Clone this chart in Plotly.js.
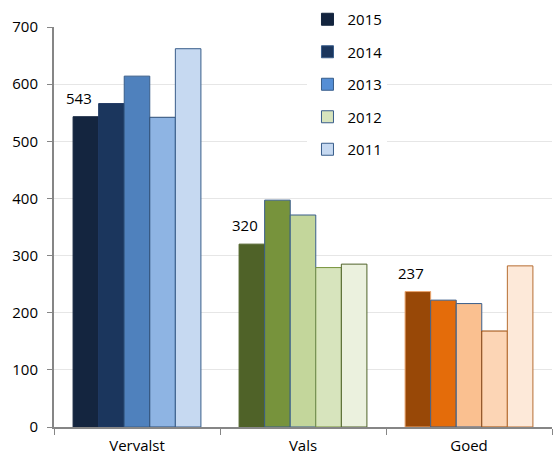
<!DOCTYPE html>
<html>
<head>
<meta charset="utf-8">
<script src="https://cdn.plot.ly/plotly-3.0.1.min.js"></script>
<style>html,body{margin:0;padding:0;background:#fff;}#chart{width:553px;height:454px;}</style>
</head>
<body>
<div id="chart"></div>
<script>
const categories = ['Vervalst', 'Vals', 'Goed'];
const years = ['2015', '2014', '2013', '2012', '2011'];
const v2015 = [543, 320, 237];
const v2014 = [566, 397, 222];
const v2013 = [614, 371, 216];
const v2012 = [542, 279, 168];
const v2011 = [662, 285, 282];
const labels2015 = ['543', '320', '237'];
const yTicks = [0, 100, 200, 300, 400, 500, 600, 700];

const values = [v2015, v2014, v2013, v2012, v2011];
const fillColors = [
  ['#14253f', '#4f6228', '#984807'],
  ['#1b365d', '#77933c', '#e46c0a'],
  ['#4f81bd', '#c3d69b', '#fac090'],
  ['#8eb4e3', '#d7e4bd', '#fcd5b5'],
  ['#c6d9f1', '#ebf1de', '#fde9d9']
];
const lineColors = [
  ['#14253f', '#4f6228', '#eaa56e'],
  ['#1f3864', '#385d8a', '#385d8a'],
  ['#385d8a', '#385d8a', '#385d8a'],
  ['#2c4d75', '#77933c', '#984807'],
  ['#385d8a', '#4f6228', '#b66d31']
];
const legendFill = ['#13243e', '#1b365d', '#558ed5', '#d7e4bd', '#c6d9f1'];
const legendLine = ['#13243e', '#385d8a', '#385d8a', '#385d8a', '#385d8a'];

const font = 'Open Sans, Noto Sans, sans-serif';
const traces = [];
years.forEach((yr, i) => {
  traces.push({
    type: 'bar', name: yr, x: categories, y: values[i],
    marker: {color: fillColors[i], line: {color: lineColors[i], width: 1}},
    showlegend: false, hoverinfo: 'x+y+name'
  });
});
years.forEach((yr, i) => {
  traces.push({
    type: 'bar', name: yr, x: [categories[0]], y: [null], xaxis: 'x2', yaxis: 'y2',
    legendgroup: 'g' + i, showlegend: true,
    marker: {color: legendFill[i], line: {color: legendLine[i], width: 1}}
  });
});

const annotations = categories.map((c, k) => ({
  x: c, y: v2015[k], xref: 'x', yref: 'y', text: labels2015[k],
  showarrow: false, xanchor: 'center', yanchor: 'bottom', xshift: -58, yshift: 7,
  font: {family: font, size: 15, color: '#000'}
}));

const layout = {
  width: 553, height: 454,
  margin: {l: 54, r: 1, t: 27, b: 27, pad: 0},
  paper_bgcolor: '#fff', plot_bgcolor: '#fff',
  font: {family: font, size: 15, color: '#000'},
  barmode: 'group', bargap: 0.23, bargroupgap: 0,
  xaxis: {
    type: 'category', showgrid: false, showline: true, linecolor: '#868686', linewidth: 2,
    ticks: 'outside', tickson: 'boundaries', ticklen: 6, tickcolor: '#868686', tickwidth: 1,
    ticklabelstandoff: 4,
    tickfont: {family: font, size: 15, color: '#000'}, fixedrange: true
  },
  yaxis: {
    range: [0, 700], tickvals: yTicks, showgrid: true, gridcolor: '#e6e6e6', gridwidth: 1,
    showline: true, linecolor: '#868686', linewidth: 2, zeroline: false,
    ticks: 'outside', ticklen: 5, tickcolor: '#868686', tickwidth: 1,
    ticklabelstandoff: 6,
    tickfont: {family: font, size: 15, color: '#000'}, fixedrange: true
  },
  xaxis2: {overlaying: 'x', visible: false, type: 'category'},
  yaxis2: {overlaying: 'y', visible: false, range: [0, 1]},
  annotations: annotations,
  legend: {
    x: 0.509, xanchor: 'left', y: 1.06, yanchor: 'top',
    bgcolor: '#fff', borderwidth: 0, traceorder: 'grouped', tracegroupgap: 10,
    font: {family: font, size: 15, color: '#000'}
  },
  showlegend: true
};

Plotly.newPlot('chart', traces, layout, {displayModeBar: false, staticPlot: true});
</script>
</body>
</html>
